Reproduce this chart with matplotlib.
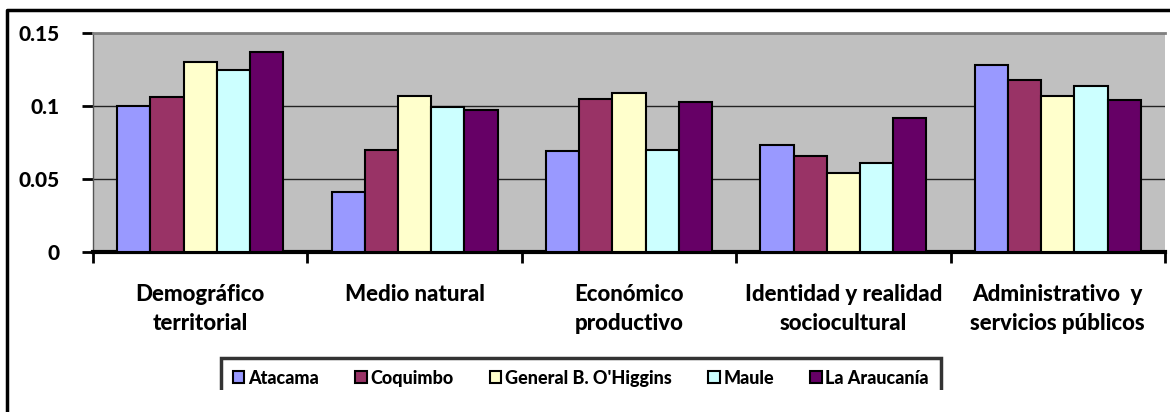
import matplotlib.pyplot as plt
import numpy as np
from matplotlib.lines import Line2D
from matplotlib.patches import Rectangle

categories = ['Demográfico\nterritorial', 'Medio natural', 'Económico\nproductivo',
              'Identidad y realidad\nsociocultural', 'Administrativo  y\nservicios públicos']
regions = ['Atacama', 'Coquimbo', "General B. O'Higgins", 'Maule', 'La Araucanía']
atacama = [0.100, 0.041, 0.069, 0.073, 0.128]
coquimbo = [0.106, 0.070, 0.105, 0.066, 0.118]
ohiggins = [0.130, 0.107, 0.109, 0.054, 0.107]
maule = [0.125, 0.099, 0.070, 0.061, 0.114]
araucania = [0.137, 0.097, 0.103, 0.092, 0.104]
colors = ['#9999FF', '#993366', '#FFFFCC', '#CCFFFF', '#660066']

series = [atacama, coquimbo, ohiggins, maule, araucania]

plt.rcParams['font.family'] = ['Lato', 'DejaVu Sans']
plt.rcParams['font.weight'] = 'black'

fig = plt.figure(figsize=(11.7, 4.12), dpi=100)
ax = fig.add_axes([93 / 1170, 160 / 412, 1072 / 1170, 219 / 412])
ax.set_facecolor('#C0C0C0')

x = np.arange(len(categories))
w = 0.155
for j, (vals, name, col) in enumerate(zip(series, regions, colors)):
    ax.bar(x + (j - 2) * w, vals, w, color=col, edgecolor='black', linewidth=1.5,
           label=name, zorder=3)

ax.set_xlim(-0.5, 4.5)
ax.set_ylim(0, 0.15)
ax.set_yticks([0, 0.05, 0.1, 0.15])
ax.set_yticklabels(['0', '0.05', '0.1', '0.15'], fontsize=15, fontweight='black')
ax.yaxis.grid(True, color='#222222', linewidth=1)
ax.set_axisbelow(True)

ax.set_xticks(x)
ax.set_xticklabels(categories, fontsize=16, fontweight='black', linespacing=1.45)
ax.set_xticks(np.arange(-0.5, 5, 1), minor=True)
ax.tick_params(axis='x', which='major', length=0, pad=23)
ax.tick_params(axis='x', which='minor', length=8, width=2, direction='out', color='black')
ax.tick_params(axis='y', length=8, width=2, direction='out', color='black', pad=16)

ax.spines['right'].set_visible(False)
ax.spines['top'].set_color('#808080')
ax.spines['top'].set_linewidth(2)
ax.spines['left'].set_color('#555555')
ax.spines['left'].set_linewidth(1)
ax.spines['bottom'].set_color('black')
ax.spines['bottom'].set_linewidth(3)

leg = fig.legend(loc='upper left', bbox_to_anchor=(221 / 1170, 1 - 358 / 412), ncol=5,
                 frameon=True, fancybox=False, edgecolor='black', fontsize=13,
                 handlelength=0.65, handleheight=0.65, handletextpad=0.2,
                 columnspacing=2.0, borderpad=0.65, borderaxespad=0)
leg.get_frame().set_linewidth(2.5)
for t in leg.get_texts():
    t.set_fontweight('black')

# the reference is cut off just below the legend's text
fig.add_artist(Rectangle((10 / 1170, 0), 1, 22 / 412, transform=fig.transFigure,
                         facecolor='white', edgecolor='none', zorder=10))
fig.add_artist(Line2D([7 / 1170, 7 / 1170, 1], [0, 1 - 10 / 412, 1 - 10 / 412],
                      transform=fig.transFigure, color='black', linewidth=2.5, zorder=11))

fig.savefig('out.png', dpi=100)
